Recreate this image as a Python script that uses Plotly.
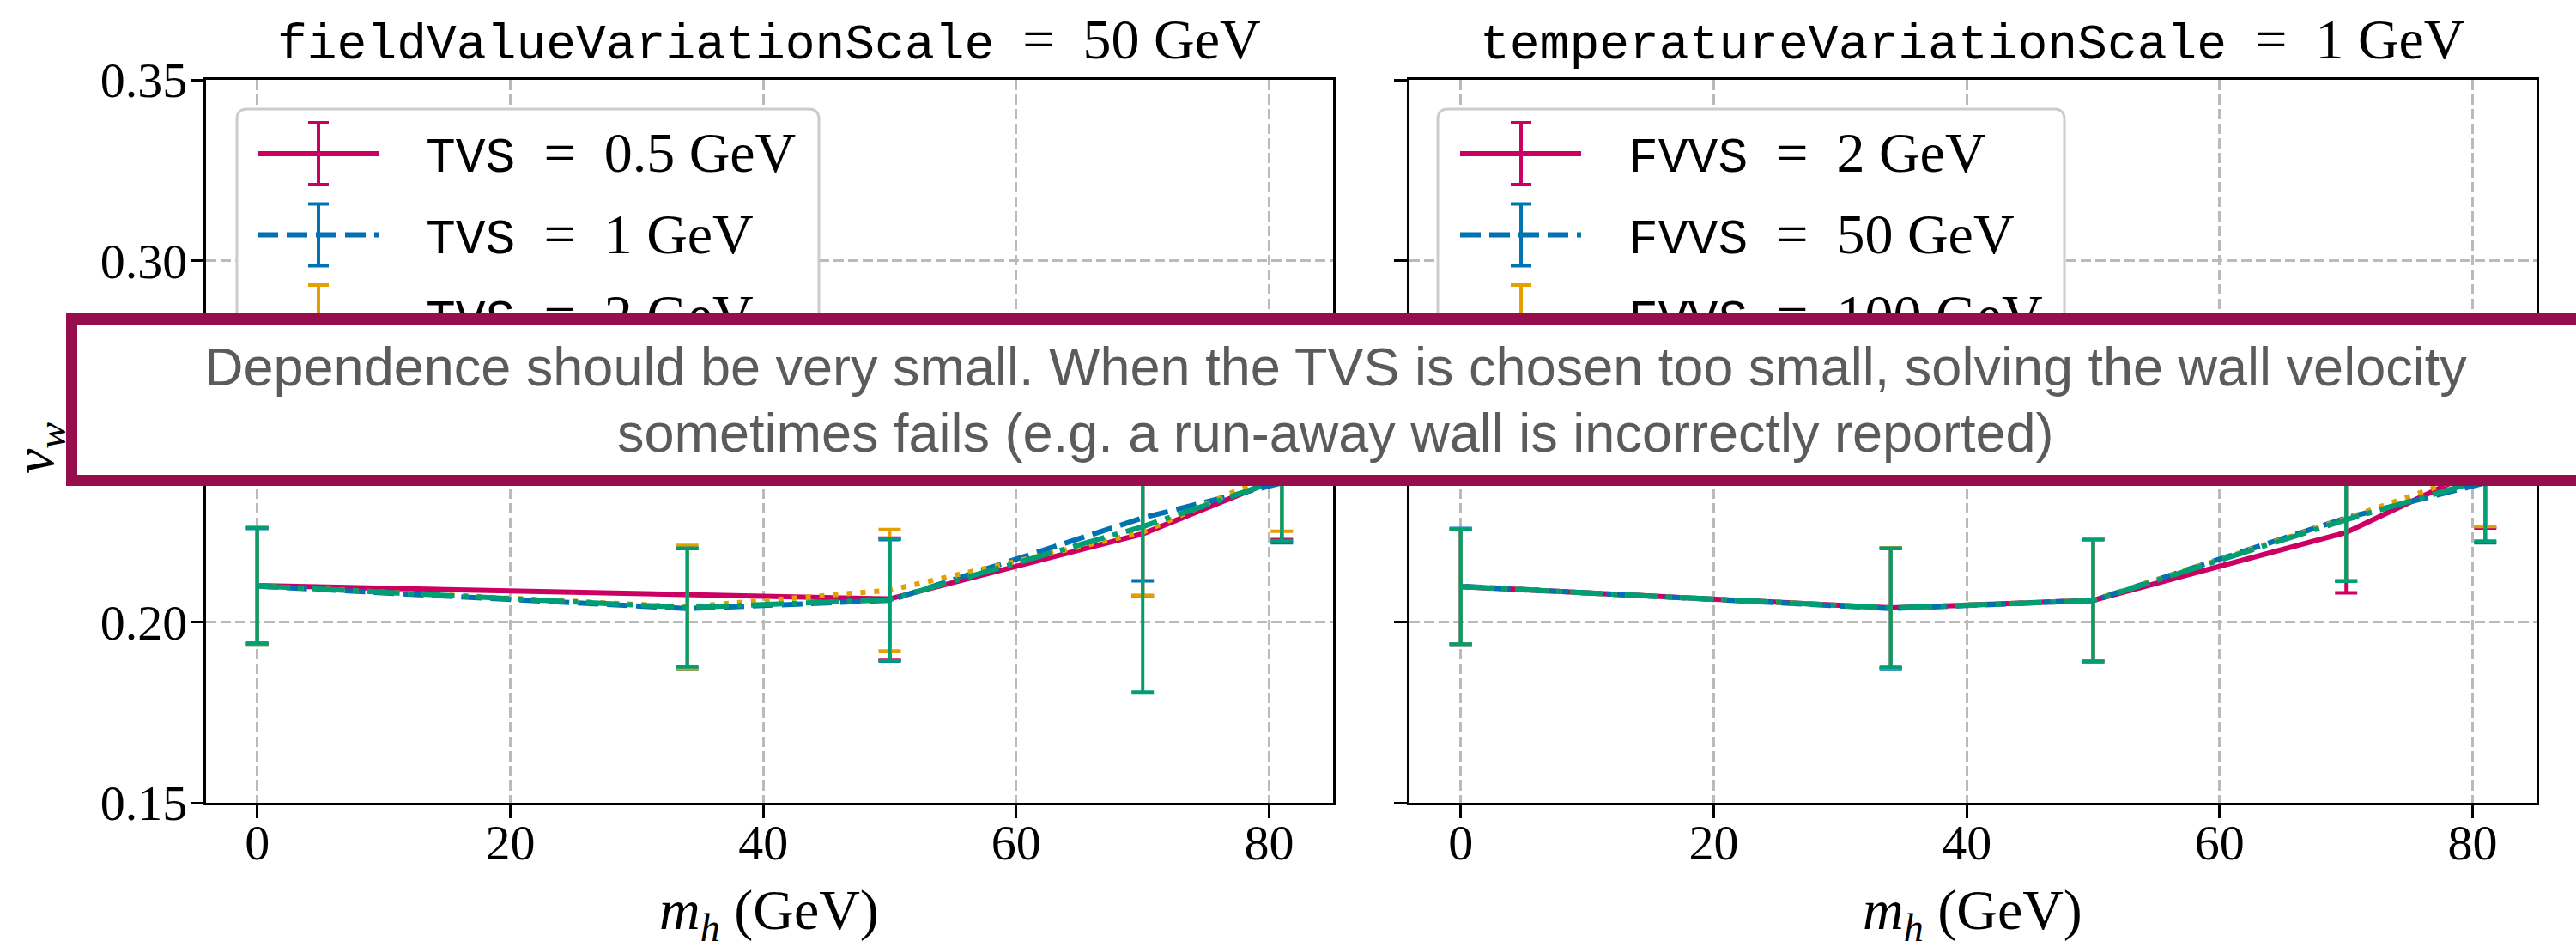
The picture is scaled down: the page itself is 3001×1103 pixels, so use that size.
import plotly.graph_objects as go

# Higgs masses (GeV) at which the wall velocity was computed
mh = [0, 34, 50, 70, 81]
# TVS = 0.5 GeV did not converge at m_h = 34 GeV
mh_tvs05 = [0, 50, 70, 81]

# Left panel: fieldValueVariationScale = 50 GeV, scanning TVS
tvs_labels = ["0.5", "1", "2", "5"]
vw_tvs05 = [0.2101, 0.2064, 0.2244, 0.2400]
err_tvs05 = [0.0160, 0.0168, 0.0171, 0.0172]
vw_tvs1 = [0.2099, 0.2037, 0.2060, 0.2288, 0.2385]
err_tvs1 = [0.0160, 0.0166, 0.0168, 0.0174, 0.0166]
vw_tvs2 = [0.2100, 0.2042, 0.2088, 0.2248, 0.2420]
err_tvs2 = [0.0161, 0.0170, 0.0168, 0.0175, 0.0169]
vw_tvs5 = [0.2100, 0.2040, 0.2062, 0.2264, 0.2395]
err_tvs5 = [0.0160, 0.0164, 0.0169, 0.0458, 0.0170]

# Right panel: temperatureVariationScale = 1 GeV, scanning FVVS
fvvs_labels = ["2", "50", "100", "500"]
vw_fvvs2 = [0.2098, 0.2039, 0.2060, 0.2248, 0.2430]
err_fvvs2 = [0.0159, 0.0165, 0.0169, 0.0167, 0.0170]
vw_fvvs50 = vw_tvs1
err_fvvs50 = err_tvs1
vw_fvvs100 = [0.2098, 0.2039, 0.2060, 0.2286, 0.2421]
err_fvvs100 = [0.0159, 0.0166, 0.0169, 0.0173, 0.0157]
vw_fvvs500 = [0.2098, 0.2039, 0.2059, 0.2283, 0.2395]
err_fvvs500 = [0.0159, 0.0165, 0.0169, 0.0170, 0.0171]

x_ticks = [0, 20, 40, 60, 80]
y_ticks = [0.15, 0.20, 0.25, 0.30, 0.35]

note_lines = [
    "Dependence should be very small. When the TVS is chosen too small, solving the wall velocity",
    "sometimes fails (e.g. a run-away wall is incorrectly reported)",
]

# ---------------------------------------------------------------- styling
W, H = 3001, 1103
L, R, T, B = 240, 46, 93, 168
PW, PH = W - L - R, H - T - B

COLORS = ["#CC0063", "#0072B2", "#E69F00", "#009E73"]
DASHES = ["solid", "24px,10px", "6px,10px", "38px,10px,6px,10px"]
LW = 6
SERIF = "Liberation Serif"
MONO = "Liberation Mono"
EQ = "  =  "   # math-style spacing around the equals sign


def px(x):
    """figure pixel column -> paper x"""
    return (x - L) / PW


def py(y):
    """figure pixel row (from top) -> paper y"""
    return (H - B - y) / PH


def tt(word):
    return f'<span style="font-family:{MONO};font-size:58px">{word}</span>'


fig = go.Figure()

panels = [
    ("x", "y", [mh_tvs05, mh, mh, mh],
     [vw_tvs05, vw_tvs1, vw_tvs2, vw_tvs5],
     [err_tvs05, err_tvs1, err_tvs2, err_tvs5]),
    ("x2", "y2", [mh, mh, mh, mh],
     [vw_fvvs2, vw_fvvs50, vw_fvvs100, vw_fvvs500],
     [err_fvvs2, err_fvvs50, err_fvvs100, err_fvvs500]),
]

for xa, ya, xs, ys, es in panels:
    for i in range(4):
        fig.add_trace(go.Scatter(
            x=xs[i], y=ys[i], mode="lines", xaxis=xa, yaxis=ya,
            line=dict(color=COLORS[i], width=LW, dash=DASHES[i]),
            error_y=dict(type="data", array=es[i], color=COLORS[i],
                         thickness=4, width=13),
            showlegend=False, hoverinfo="skip",
        ))

axis_common = dict(
    showline=True, linecolor="black", linewidth=3.3, mirror=True,
    ticks="outside", ticklen=15, tickwidth=3.3, tickcolor="black",
    showgrid=True, gridcolor="#bababa", gridwidth=3, griddash="12px,5px",
    zeroline=False, tickfont=dict(family=SERIF, size=58, color="black"),
)

xcommon = dict(axis_common, range=[-4.05, 85.05], tickvals=x_ticks,
               ticktext=[str(v) for v in x_ticks], ticklabelstandoff=-22)
ycommon = dict(axis_common, range=[0.15, 0.35], tickvals=y_ticks,
               ticktext=[f"{v:.2f}" for v in y_ticks], ticklabelstandoff=-8)

fig.update_layout(
    width=W, height=H,
    margin=dict(l=L, r=R, t=T, b=B, autoexpand=False),
    paper_bgcolor="white", plot_bgcolor="white",
    xaxis=dict(xcommon, domain=[0, px(1553)], anchor="y"),
    xaxis2=dict(xcommon, domain=[px(1642), 1], anchor="y2"),
    yaxis=dict(ycommon, anchor="x"),
    yaxis2=dict(ycommon, anchor="x2", matches="y", showticklabels=False),
)

shapes = []
annotations = []

# panel titles and axis labels
titles = [
    (896, f"{tt('fieldValueVariationScale')}{EQ}50 GeV"),
    (2298, f"{tt('temperatureVariationScale')}{EQ}1 GeV"),
]
for cx, txt in titles:
    annotations.append(dict(
        xref="paper", yref="paper", x=px(cx), y=py(47), xanchor="center",
        yanchor="middle", text=txt, showarrow=False,
        font=dict(family=SERIF, size=66, color="black")))
    annotations.append(dict(
        xref="paper", yref="paper", x=px(cx), y=py(1064),
        xanchor="center", yanchor="middle",
        text="<i>m</i><sub><i>h</i></sub> (GeV)", showarrow=False,
        font=dict(family=SERIF, size=66, color="black")))

annotations.append(dict(
    xref="paper", yref="paper", x=px(44), y=py(522), xanchor="center",
    yanchor="middle", textangle=-90, text="<i>v</i><sub><i>w</i></sub>",
    showarrow=False, font=dict(family=SERIF, size=66, color="black")))


def legend(frame_x0, frame_x1, line_x0, line_x1, bar_x, text_x, labels):
    top, bottom, rad = 127, 512, 12
    x0, x1, y0, y1 = frame_x0, frame_x1, top, bottom
    pts = [
        ("M", x0 + rad, y0), ("L", x1 - rad, y0), ("Q", x1, y0, x1, y0 + rad),
        ("L", x1, y1 - rad), ("Q", x1, y1, x1 - rad, y1),
        ("L", x0 + rad, y1), ("Q", x0, y1, x0, y1 - rad),
        ("L", x0, y0 + rad), ("Q", x0, y0, x0 + rad, y0),
    ]
    path = ""
    for p in pts:
        cmd, coords = p[0], p[1:]
        conv = []
        for k in range(0, len(coords), 2):
            conv.append(f"{px(coords[k]):.6f},{py(coords[k + 1]):.6f}")
        path += cmd + " ".join(conv) + " "
    shapes.append(dict(type="path", xref="paper", yref="paper", path=path + "Z",
                       fillcolor="white", line=dict(color="#cccccc", width=3),
                       layer="above"))
    rows = [179, 273.5, 368, 462.5]
    for i, yc in enumerate(rows):
        shapes.append(dict(type="line", xref="paper", yref="paper",
                           x0=px(line_x0), x1=px(line_x1), y0=py(yc), y1=py(yc),
                           line=dict(color=COLORS[i], width=LW, dash=DASHES[i]),
                           layer="above"))
        shapes.append(dict(type="line", xref="paper", yref="paper",
                           x0=px(bar_x), x1=px(bar_x), y0=py(yc - 36), y1=py(yc + 36),
                           line=dict(color=COLORS[i], width=4), layer="above"))
        for dy in (-36, 36):
            shapes.append(dict(type="line", xref="paper", yref="paper",
                               x0=px(bar_x - 12), x1=px(bar_x + 12),
                               y0=py(yc + dy), y1=py(yc + dy),
                               line=dict(color=COLORS[i], width=4), layer="above"))
        annotations.append(dict(
            xref="paper", yref="paper", x=px(text_x), y=py(yc), xanchor="left",
            yanchor="middle", text=labels[i], showarrow=False,
            font=dict(family=SERIF, size=66, color="black")))


legend(276, 954, 300, 442, 371, 494,
       [f"{tt('TVS')}{EQ}{v} GeV" for v in tvs_labels])
legend(1675, 2405, 1701, 1842, 1772, 1895,
       [f"{tt('FVVS')}{EQ}{v} GeV" for v in fvvs_labels])

# framed note drawn over the panels
annotations.append(dict(
    xref="paper", yref="paper", x=px(1556), y=py(465.5), xanchor="center",
    yanchor="middle", text=" ", showarrow=False, width=2932, height=175,
    borderpad=0, borderwidth=13, bordercolor="#960F4C", bgcolor="white",
    font=dict(family="Liberation Sans", size=20)))
for line, yc in zip(note_lines, [427, 504]):
    annotations.append(dict(
        xref="paper", yref="paper", x=px(1556), y=py(yc), xanchor="center",
        yanchor="middle", text=line, showarrow=False,
        font=dict(family="Liberation Sans", size=63, color="#5b5b5b")))

fig.update_layout(shapes=shapes, annotations=annotations)
fig.write_html("out.html")
